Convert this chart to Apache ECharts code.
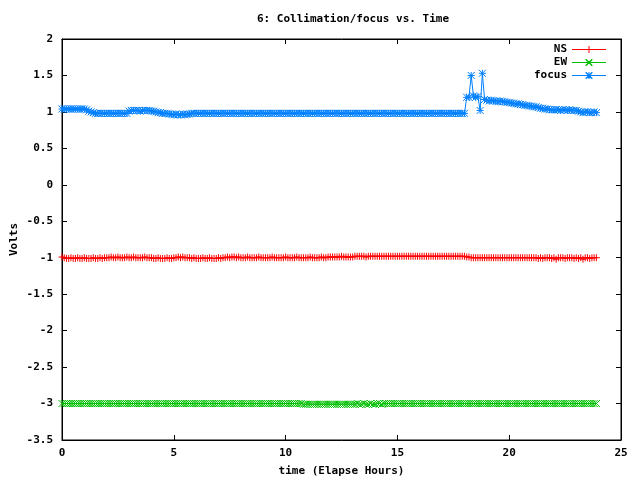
<!DOCTYPE html>
<html>
<head>
<meta charset="utf-8">
<script src="https://cdn.jsdelivr.net/npm/echarts@6/dist/echarts.min.js"></script>
<style>html,body{margin:0;padding:0;background:#fff}#c{width:640px;height:480px}</style>
</head>
<body>
<div id="c"></div>
<script>
var titleText = "6: Collimation/focus vs. Time";
var xName = "time (Elapse Hours)";
var yName = "Volts";
var seriesNames = ["NS", "EW", "focus"];

var times = [
0.0,0.1,0.2,0.3,0.4,0.5,0.6,0.7,0.8,0.9,
1.0,1.1,1.2,1.3,1.4,1.5,1.6,1.7,1.8,1.9,
2.0,2.1,2.2,2.3,2.4,2.5,2.6,2.7,2.8,2.9,
3.0,3.1,3.2,3.3,3.4,3.5,3.6,3.7,3.8,3.9,
4.0,4.1,4.2,4.3,4.4,4.5,4.6,4.7,4.8,4.9,
5.0,5.1,5.2,5.3,5.4,5.5,5.6,5.7,5.8,5.9,
6.0,6.1,6.2,6.3,6.4,6.5,6.6,6.7,6.8,6.9,
7.0,7.1,7.2,7.3,7.4,7.5,7.6,7.7,7.8,7.9,
8.0,8.1,8.2,8.3,8.4,8.5,8.6,8.7,8.8,8.9,
9.0,9.1,9.2,9.3,9.4,9.5,9.6,9.7,9.8,9.9,
10.0,10.1,10.2,10.3,10.4,10.5,10.6,10.7,10.8,10.9,
11.0,11.1,11.2,11.3,11.4,11.5,11.6,11.7,11.8,11.9,
12.0,12.1,12.2,12.3,12.4,12.5,12.6,12.7,12.8,12.9,
13.0,13.1,13.2,13.3,13.4,13.5,13.6,13.7,13.8,13.9,
14.0,14.1,14.2,14.3,14.4,14.5,14.6,14.7,14.8,14.9,
15.0,15.1,15.2,15.3,15.4,15.5,15.6,15.7,15.8,15.9,
16.0,16.1,16.2,16.3,16.4,16.5,16.6,16.7,16.8,16.9,
17.0,17.1,17.2,17.3,17.4,17.5,17.6,17.7,17.8,17.9,
18.0,18.1,18.2,18.3,18.4,18.5,18.6,18.7,18.8,18.9,
19.0,19.1,19.2,19.3,19.4,19.5,19.6,19.7,19.8,19.9,
20.0,20.1,20.2,20.3,20.4,20.5,20.6,20.7,20.8,20.9,
21.0,21.1,21.2,21.3,21.4,21.5,21.6,21.7,21.8,21.9,
22.0,22.1,22.2,22.3,22.4,22.5,22.6,22.7,22.8,22.9,
23.0,23.1,23.2,23.3,23.4,23.5,23.6,23.7,23.8,23.9
];

var nsValues = [
-0.99,-1.0,-1.01,-1.01,-1.0,-1.01,-1.01,-1.0,-1.01,-1.01,
-1.0,-1.01,-1.01,-1.01,-1.0,-1.01,-1.01,-1.0,-1.01,-1.0,
-1.0,-1.0,-0.99,-1.0,-1.0,-0.99,-1.0,-1.0,-1.0,-0.99,
-1.0,-1.0,-0.99,-1.0,-1.0,-1.0,-1.0,-0.99,-1.0,-1.0,
-1.0,-1.01,-1.01,-1.0,-1.01,-1.01,-1.01,-1.0,-1.01,-1.01,
-1.0,-1.0,-0.99,-1.0,-0.99,-1.0,-1.0,-1.0,-1.01,-1.0,
-1.01,-1.01,-1.01,-1.0,-1.01,-1.01,-1.0,-1.01,-1.01,-1.01,
-1.0,-1.01,-1.0,-1.0,-0.99,-1.0,-0.99,-0.99,-1.0,-0.99,
-1.0,-1.0,-1.0,-0.99,-1.0,-1.0,-1.0,-1.0,-0.99,-1.0,
-1.0,-1.0,-1.0,-1.0,-0.99,-1.0,-1.0,-1.0,-1.0,-1.0,
-0.99,-1.0,-1.0,-1.0,-1.0,-0.99,-1.0,-1.0,-1.0,-1.0,
-1.0,-0.99,-1.0,-1.0,-1.0,-1.0,-0.99,-1.0,-1.0,-0.99,
-0.99,-0.99,-0.99,-0.99,-0.99,-0.98,-0.99,-0.99,-0.99,-0.99,
-0.99,-0.98,-0.98,-0.98,-0.98,-0.98,-0.99,-0.98,-0.98,-0.98,
-0.98,-0.98,-0.98,-0.98,-0.98,-0.98,-0.98,-0.98,-0.98,-0.98,
-0.98,-0.98,-0.98,-0.98,-0.98,-0.98,-0.98,-0.98,-0.98,-0.98,
-0.98,-0.98,-0.98,-0.98,-0.98,-0.98,-0.98,-0.98,-0.98,-0.98,
-0.98,-0.98,-0.98,-0.98,-0.98,-0.98,-0.98,-0.98,-0.98,-0.98,
-0.98,-0.99,-0.99,-1.0,-1.0,-1.0,-1.0,-1.0,-1.0,-1.0,
-1.0,-1.0,-1.0,-1.0,-1.0,-1.0,-1.0,-1.0,-1.0,-1.0,
-1.0,-1.0,-1.0,-1.0,-1.0,-1.0,-1.0,-1.0,-1.0,-1.0,
-1.0,-1.0,-1.0,-1.01,-1.0,-1.01,-1.0,-1.0,-1.0,-1.01,
-1.0,-1.02,-1.0,-1.0,-1.0,-1.01,-1.0,-1.0,-1.0,-1.01,
-1.0,-1.01,-1.0,-1.02,-1.0,-1.0,-1.01,-1.0,-1.0,-1.0
];

var ewValues = [
-3.0,-3.0,-3.0,-3.0,-3.0,-3.0,-3.0,-3.0,-3.0,-3.0,
-3.0,-3.0,-3.0,-3.0,-3.0,-3.0,-3.0,-3.0,-3.0,-3.0,
-3.0,-3.0,-3.0,-3.0,-3.0,-3.0,-3.0,-3.0,-3.0,-3.0,
-3.0,-3.0,-3.0,-3.0,-3.0,-3.0,-3.0,-3.0,-3.0,-3.0,
-3.0,-3.0,-3.0,-3.0,-3.0,-3.0,-3.0,-3.0,-3.0,-3.0,
-3.0,-3.0,-3.0,-3.0,-3.0,-3.0,-3.0,-3.0,-3.0,-3.0,
-3.0,-3.0,-3.0,-3.0,-3.0,-3.0,-3.0,-3.0,-3.0,-3.0,
-3.0,-3.0,-3.0,-3.0,-3.0,-3.0,-3.0,-3.0,-3.0,-3.0,
-3.0,-3.0,-3.0,-3.0,-3.0,-3.0,-3.0,-3.0,-3.0,-3.0,
-3.0,-3.0,-3.0,-3.0,-3.0,-3.0,-3.0,-3.0,-3.0,-3.0,
-3.0,-3.0,-3.0,-3.0,-3.0,-3.0,-3.0,-3.0,-3.01,-3.01,
-3.01,-3.01,-3.01,-3.01,-3.01,-3.01,-3.01,-3.01,-3.01,-3.01,
-3.01,-3.01,-3.01,-3.01,-3.01,-3.01,-3.01,-3.01,-3.01,-3.01,
-3.01,-3.01,-3.0,-3.01,-3.01,-3.0,-3.01,-3.01,-3.0,-3.01,
-3.01,-3.0,-3.0,-3.01,-3.0,-3.0,-3.0,-3.0,-3.0,-3.0,
-3.0,-3.0,-3.0,-3.0,-3.0,-3.0,-3.0,-3.0,-3.0,-3.0,
-3.0,-3.0,-3.0,-3.0,-3.0,-3.0,-3.0,-3.0,-3.0,-3.0,
-3.0,-3.0,-3.0,-3.0,-3.0,-3.0,-3.0,-3.0,-3.0,-3.0,
-3.0,-3.0,-3.0,-3.0,-3.0,-3.0,-3.0,-3.0,-3.0,-3.0,
-3.0,-3.0,-3.0,-3.0,-3.0,-3.0,-3.0,-3.0,-3.0,-3.0,
-3.0,-3.0,-3.0,-3.0,-3.0,-3.0,-3.0,-3.0,-3.0,-3.0,
-3.0,-3.0,-3.0,-3.0,-3.0,-3.0,-3.0,-3.0,-3.0,-3.0,
-3.0,-3.0,-3.0,-3.0,-3.0,-3.0,-3.0,-3.0,-3.0,-3.0,
-3.0,-3.0,-3.0,-3.0,-3.0,-3.0,-3.0,-3.0,-3.0,-3.0
];

var focusValues = [
1.04,1.04,1.04,1.04,1.04,1.04,1.04,1.04,1.04,1.04,
1.04,1.03,1.01,1.0,0.99,0.98,0.98,0.98,0.98,0.98,
0.98,0.98,0.98,0.98,0.98,0.98,0.98,0.98,0.98,0.98,
1.01,1.02,1.02,1.02,1.02,1.01,1.02,1.02,1.02,1.02,
1.01,1.01,1.0,0.99,0.99,0.98,0.98,0.98,0.97,0.97,
0.96,0.97,0.96,0.96,0.97,0.96,0.97,0.97,0.98,0.98,
0.98,0.98,0.98,0.98,0.98,0.98,0.98,0.98,0.98,0.98,
0.98,0.98,0.98,0.98,0.98,0.98,0.98,0.98,0.98,0.98,
0.98,0.98,0.98,0.98,0.98,0.98,0.98,0.98,0.98,0.98,
0.98,0.98,0.98,0.98,0.98,0.98,0.98,0.98,0.98,0.98,
0.98,0.98,0.98,0.98,0.98,0.98,0.98,0.98,0.98,0.98,
0.98,0.98,0.98,0.98,0.98,0.98,0.98,0.98,0.98,0.98,
0.98,0.98,0.98,0.98,0.98,0.98,0.98,0.98,0.98,0.98,
0.98,0.98,0.98,0.98,0.98,0.98,0.98,0.98,0.98,0.98,
0.98,0.98,0.98,0.98,0.98,0.98,0.98,0.98,0.98,0.98,
0.98,0.98,0.98,0.98,0.98,0.98,0.98,0.98,0.98,0.98,
0.98,0.98,0.98,0.98,0.98,0.98,0.98,0.98,0.98,0.98,
0.98,0.98,0.98,0.98,0.98,0.98,0.98,0.98,0.98,0.98,
0.98,1.2,1.2,1.5,1.22,1.2,1.21,1.02,1.53,1.17,
1.16,1.15,1.16,1.15,1.15,1.14,1.15,1.14,1.14,1.13,
1.13,1.12,1.12,1.11,1.11,1.1,1.1,1.09,1.09,1.08,
1.08,1.07,1.07,1.06,1.05,1.05,1.04,1.04,1.03,1.03,
1.03,1.03,1.03,1.02,1.03,1.03,1.02,1.03,1.02,1.02,
1.02,1.01,1.0,0.99,1.0,1.0,0.99,0.99,1.0,0.99
];

var xTicks = {min: 0, max: 25, interval: 5};
var yTicks = {min: -3.5, max: 2, interval: 0.5};

var colors = ["#ff0000", "#00c000", "#0080ff"];
var symbols = [
  "path://M3,0L3,6M0,3L6,3",
  "path://M0,0L6,6M0,6L6,0",
  "path://M3,0L3,6M0,3L6,3M0,0L6,6M0,6L6,0"
];
var LINE_RECT = "M0,3L34,3L34,4L0,4Z";
var PLUS_RECTS = "M16.5,0L17.5,0L17.5,7L16.5,7Z M13.5,3L20.5,3L20.5,4L13.5,4Z";
var CROSS_QUADS = "M13.5,0L14.5,0L20.5,6L20.5,7L19.5,7L13.5,1Z M19.5,0L20.5,0L20.5,1L14.5,7L13.5,7L13.5,6Z";
var legendIcons = [
  "path://" + LINE_RECT + " " + PLUS_RECTS,
  "path://" + LINE_RECT + " " + CROSS_QUADS,
  "path://" + LINE_RECT + " " + PLUS_RECTS + " " + CROSS_QUADS
];
var valueSets = [nsValues, ewValues, focusValues];

var FONT = "DejaVu Sans Mono";

function pairs(vals) {
  return vals.map(function (v, i) { return [times[i], v]; });
}

var series = seriesNames.map(function (name, k) {
  return {
    name: name,
    type: "line",
    data: pairs(valueSets[k]),
    symbol: symbols[k],
    symbolSize: 7,
    showAllSymbol: true,
    symbolKeepAspect: true,
    lineStyle: {color: colors[k], width: 1},
    itemStyle: {color: colors[k], borderColor: colors[k], borderWidth: 1},
    emphasis: {disabled: true},
    animation: false
  };
});

var legendTops = [44, 57, 70];
var legends = seriesNames.map(function (name, k) {
  return {
    data: [{name: name, icon: legendIcons[k]}],
    right: 34,
    top: legendTops[k],
    align: "right",
    orient: "vertical",
    itemWidth: 34,
    itemHeight: 7,
    padding: 0,
    selectedMode: false,
    itemStyle: {color: colors[k], borderWidth: 0, opacity: 1},
    textStyle: {fontFamily: FONT, fontWeight: "bold", fontSize: 11, color: "#000"}
  };
});

var labelStyle = {fontFamily: FONT, fontWeight: "bold", fontSize: 11, color: "#000"};

var chart = echarts.init(document.getElementById("c"), null, {renderer: "canvas"});
chart.setOption({
  backgroundColor: "#fff",
  animation: false,
  title: {
    text: titleText,
    left: 257,
    top: 14,
    padding: 0,
    textStyle: {fontFamily: FONT, fontWeight: "bold", fontSize: 11, color: "#000"}
  },
  legend: legends,
  grid: {left: 62, right: 19, top: 39, bottom: 40, outerBoundsMode: "none", containLabel: false, show: true, borderColor: "#000", borderWidth: 1, backgroundColor: "transparent"},
  xAxis: [{
    type: "value", min: xTicks.min, max: xTicks.max, interval: xTicks.interval,
    name: xName, nameLocation: "middle", nameGap: 26, nameMoveOverlap: false,
    nameTextStyle: labelStyle,
    axisLine: {show: true, onZero: false, lineStyle: {color: "#000", width: 1}},
    axisTick: {show: true, inside: true, length: 5, lineStyle: {color: "#000"}},
    axisLabel: Object.assign({margin: 8}, labelStyle),
    splitLine: {show: false}
  }, {
    type: "value", position: "top", min: xTicks.min, max: xTicks.max, interval: xTicks.interval,
    axisLine: {show: true, onZero: false, lineStyle: {color: "#000", width: 1}},
    axisTick: {show: true, inside: true, length: 5, lineStyle: {color: "#000"}},
    axisLabel: {show: false},
    splitLine: {show: false}
  }],
  yAxis: [{
    type: "value", min: yTicks.min, max: yTicks.max, interval: yTicks.interval,
    name: yName, nameLocation: "middle", nameGap: 42, nameRotate: 90, nameMoveOverlap: false,
    nameTextStyle: labelStyle,
    axisLine: {show: true, onZero: false, lineStyle: {color: "#000", width: 1}},
    axisTick: {show: true, inside: true, length: 5, lineStyle: {color: "#000"}},
    axisLabel: Object.assign({margin: 9}, labelStyle),
    splitLine: {show: false}
  }, {
    type: "value", position: "right", min: yTicks.min, max: yTicks.max, interval: yTicks.interval,
    axisLine: {show: true, onZero: false, lineStyle: {color: "#000", width: 1}},
    axisTick: {show: true, inside: true, length: 5, lineStyle: {color: "#000"}},
    axisLabel: {show: false},
    splitLine: {show: false}
  }],
  series: series
});
</script>
</body>
</html>
